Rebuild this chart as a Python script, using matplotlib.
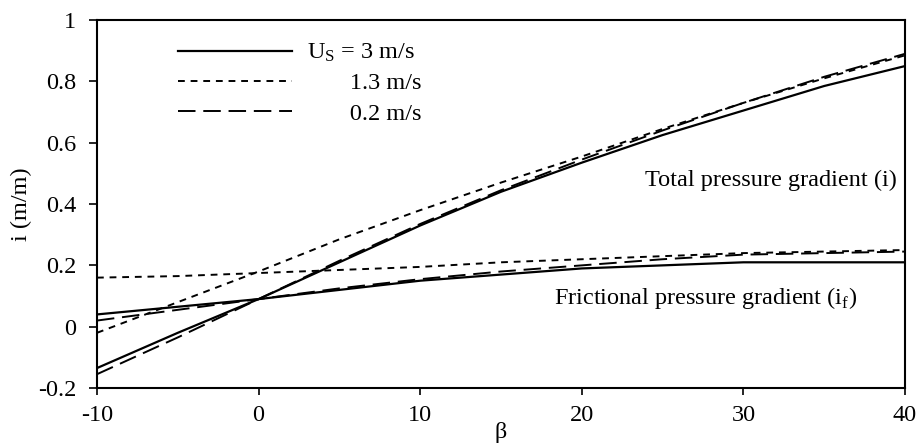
import numpy as np
import matplotlib
matplotlib.use('Agg')
import matplotlib.pyplot as plt

# inclination angle (deg)
aBeta = [-10, -5, 0, 5, 10, 15, 20, 25, 30, 35, 40]

# total pressure gradient (i), one list per slip velocity
aTotal_3 = [-0.135, -0.02, 0.09, 0.21, 0.33, 0.44, 0.535, 0.625, 0.705, 0.785, 0.85]
aTotal_13 = [-0.02, 0.08, 0.18, 0.285, 0.38, 0.47, 0.555, 0.645, 0.73, 0.81, 0.885]
aTotal_02 = [-0.155, -0.035, 0.09, 0.215, 0.335, 0.445, 0.545, 0.64, 0.73, 0.815, 0.89]

# frictional pressure gradient (if)
aFric_3 = [0.04, 0.065, 0.09, 0.12, 0.15, 0.17, 0.19, 0.20, 0.21, 0.21, 0.21]
aFric_13 = [0.16, 0.165, 0.175, 0.185, 0.195, 0.21, 0.22, 0.23, 0.24, 0.245, 0.25]
aFric_02 = [0.02, 0.055, 0.09, 0.125, 0.155, 0.18, 0.20, 0.22, 0.235, 0.24, 0.245]

aLabel = ['$\\mathrm{U_S}$ = 3 m/s', '       1.3 m/s', '       0.2 m/s']

plt.rcParams['font.family'] = ['Liberation Serif', 'DejaVu Serif']
plt.rcParams['mathtext.fontset'] = 'custom'
plt.rcParams['mathtext.rm'] = 'Liberation Serif'
plt.rcParams['font.size'] = 17.5

fig = plt.figure(figsize=(9.19, 4.46), dpi=100)
ax = fig.add_axes([0.1055, 0.130, 0.8793, 0.825])

sty_solid = dict(color='black', lw=1.6, linestyle='-')
sty_dot = dict(color='black', lw=1.4, linestyle=(0, (3.5, 3.0)))
sty_dash = dict(color='black', lw=1.4, linestyle=(0, (9, 4)))

ax.plot(aBeta, aTotal_3, label=aLabel[0], **sty_solid)
ax.plot(aBeta, aTotal_13, label=aLabel[1], **sty_dot)
ax.plot(aBeta, aTotal_02, label=aLabel[2], **sty_dash)
ax.plot(aBeta, aFric_3, **sty_solid)
ax.plot(aBeta, aFric_13, **sty_dot)
ax.plot(aBeta, aFric_02, **sty_dash)

ax.text(23.9, 0.478, 'Total pressure gradient (i)', va='center', ha='left')
ax.text(18.3, 0.093, 'Frictional pressure gradient (i$_\\mathrm{f}$)', va='center', ha='left')

ax.set_xlim(-10, 40)
ax.set_ylim(-0.2, 1)
ax.set_xticks([-10, 0, 10, 20, 30, 40])
ax.set_yticks([-0.2, 0, 0.2, 0.4, 0.6, 0.8, 1])
ax.set_yticklabels(['-0.2', '0', '0.2', '0.4', '0.6', '0.8', '1'])
ax.set_xticklabels(['-10', '0', '10', '20', '30', '40'])
ax.tick_params(axis='y', direction='out', length=6, width=1.2, pad=9)
ax.tick_params(axis='x', direction='out', length=5, width=1.2, pad=7)
for s in ax.spines.values():
    s.set_linewidth(1.5)

ax.set_xlabel('\u03b2', labelpad=-3)
ax.set_ylabel('i (m/m)', labelpad=4)

ax.legend(loc='upper left', bbox_to_anchor=(0.1, 0.94), frameon=False,
          borderpad=0, borderaxespad=0,
          handlelength=4.7, handletextpad=0.6, labelspacing=0.33)

fig.savefig('out.png', dpi=100)
